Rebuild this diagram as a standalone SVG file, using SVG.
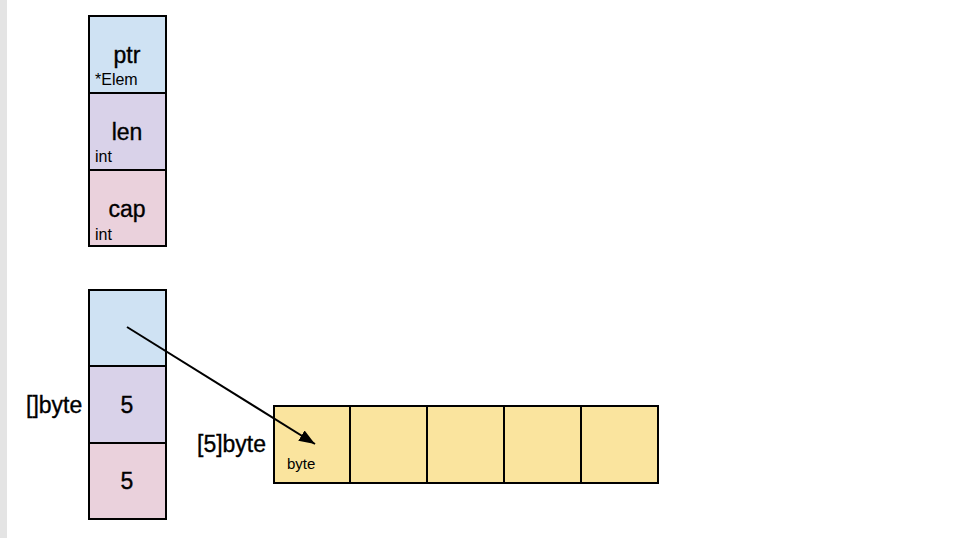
<svg xmlns="http://www.w3.org/2000/svg" width="973" height="538" viewBox="0 0 973 538">
<defs>
<style>
.box{stroke:#000;stroke-width:2}
.blue{fill:#cfe2f3}.purple{fill:#d9d2e9}.pink{fill:#ead1dc}.yellow{fill:#fae49e}
.big{font-family:"Liberation Sans",Arial,sans-serif;font-size:23px;fill:#000;stroke:#000;stroke-width:0.35}
.mid{text-anchor:middle}
.small{font-family:"Liberation Sans",Arial,sans-serif;font-size:16px;fill:#000}
.tiny{font-family:"Liberation Sans",Arial,sans-serif;font-size:15px;fill:#000}
</style>
<marker id="arr" viewBox="0 0 16 12" refX="16" refY="6" markerWidth="16" markerHeight="12" markerUnits="userSpaceOnUse" orient="auto"><path d="M0,0 L16,6 L0,12 z" fill="#000"/></marker>
</defs>
<rect x="0" y="0" width="973" height="538" fill="#fff"/>
<rect x="0" y="0" width="7" height="538" fill="#e4e4e4"/>
<g id="slice-header">
<g id="ptr"><rect class="box blue" x="89" y="16" width="77" height="77"/><text class="big mid" x="127" y="63">ptr</text><text class="small" x="95" y="85">*Elem</text></g>
<g id="len"><rect class="box purple" x="89" y="93" width="77" height="77"/><text class="big mid" x="127" y="140">len</text><text class="small" x="95" y="162">int</text></g>
<g id="cap"><rect class="box pink" x="89" y="170" width="77" height="76"/><text class="big mid" x="127" y="217">cap</text><text class="small" x="95" y="240">int</text></g>
</g>
<g id="byte-slice">
<text class="big" x="26" y="413">[]byte</text>
<g id="s-ptr"><rect class="box blue" x="89" y="290" width="77" height="76"/></g>
<g id="s-len"><rect class="box purple" x="89" y="366" width="77" height="77"/><text class="big mid" x="127" y="413">5</text></g>
<g id="s-cap"><rect class="box pink" x="89" y="443" width="77" height="76"/><text class="big mid" x="127" y="489">5</text></g>
</g>
<g id="array">
<text class="big" x="197" y="452">[5]byte</text>
<g id="a0"><rect class="box yellow" x="274" y="406" width="76" height="77"/><text class="tiny" x="287" y="469">byte</text></g>
<g id="a1"><rect class="box yellow" x="350" y="406" width="77" height="77"/></g>
<g id="a2"><rect class="box yellow" x="427" y="406" width="77" height="77"/></g>
<g id="a3"><rect class="box yellow" x="504" y="406" width="77" height="77"/></g>
<g id="a4"><rect class="box yellow" x="581" y="406" width="77" height="77"/></g>
</g>
<g id="connectors">
<line x1="127" y1="327" x2="315" y2="444" stroke="#000" stroke-width="2" marker-end="url(#arr)"/>
</g>
</svg>
